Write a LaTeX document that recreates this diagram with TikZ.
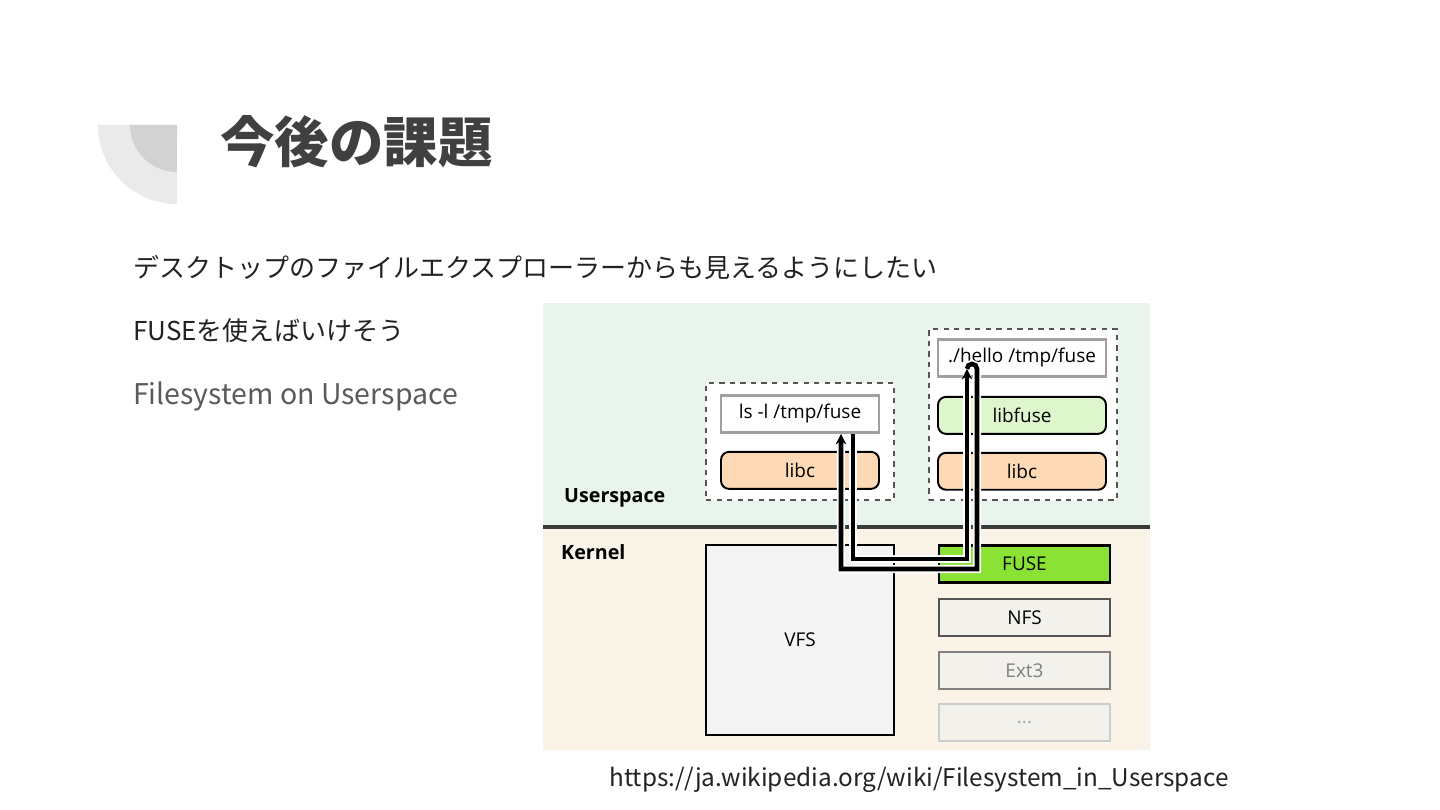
\documentclass[tikz,border=0pt]{standalone}
\usepackage{fontspec}
\setmainfont{Open Sans}
\newfontfamily\cjk{Noto Sans CJK JP}
\usepackage{tikz}
\usetikzlibrary{arrows.meta, positioning}
\definecolor{titlegray}{RGB}{64,64,64}
\definecolor{bodydark}{RGB}{34,34,34}
\definecolor{bodygray}{RGB}{90,90,90}
\definecolor{decoouter}{RGB}{234,234,234}
\definecolor{decoinner}{RGB}{210,210,210}
\definecolor{userbg}{RGB}{233,245,236}
\definecolor{kernelbg}{RGB}{250,243,232}
\definecolor{sepline}{RGB}{55,60,58}
\definecolor{cmdborder}{RGB}{160,160,160}
\definecolor{dashgray}{RGB}{85,85,85}
\definecolor{libcfill}{RGB}{253,217,181}
\definecolor{libfusefill}{RGB}{221,246,204}
\definecolor{fusefill}{RGB}{138,226,52}
\definecolor{vfsfill}{RGB}{244,244,244}
\definecolor{fsfill}{RGB}{243,241,236}
\tikzset{
  diagtext/.style={font=\fontsize{10.8pt}{12pt}\selectfont, inner ysep=1pt},
  groupbox/.style={
    draw=dashgray, fill=white, dashed, line width=0.9pt,
    minimum width=3.76cm
  },
  cmdbox/.style={
    diagtext, draw=cmdborder, fill=white, line width=1.6pt,
    minimum height=0.74cm
  },
  libbox/.style={
    diagtext, draw=black, line width=1.1pt,
    rounded corners=0.16cm, minimum height=0.74cm
  },
  fsbox/.style={
    diagtext, line width=1.3pt, minimum width=3.42cm,
    minimum height=0.74cm
  },
  arealabel/.style={
    font=\fontsize{11.2pt}{12pt}\selectfont\bfseries, anchor=west
  },
  bodytext/.style={
    font=\cjk\fontsize{14.8pt}{18pt}\selectfont, anchor=west
  },
  flowline/.style={
    draw=black, line width=2.6pt,
    preaction={draw=white, line width=4.6pt},
    -{Stealth[length=6pt,width=6pt]}
  },
}

\begin{document}
\begin{tikzpicture}[x=0.02cm, y=-0.02cm]
  \useasboundingbox (0,0) rectangle (1440,810);
  \fill[white] (0,0) rectangle (1440,810);

  %% Corner decoration
  \fill[decoouter] (177,125) -- (98,125) arc[start angle=180, end angle=270, radius=1.58cm] -- cycle;
  \fill[decoinner] (177,125) -- (130,125) arc[start angle=180, end angle=270, radius=0.94cm] -- cycle;

  %% Title and bullet lines
  \node[font=\cjk\bfseries\fontsize{31pt}{36pt}\selectfont, text=titlegray, anchor=west] (title) at (214,142) {今後の課題};
  \node[bodytext, text=bodydark] (line1) at (127,267) {デスクトップのファイルエクスプローラーからも見えるようにしたい};
  \node[bodytext, text=bodydark] (line2) at (127,331) {FUSEを使えばいけそう};
  \node[bodytext, text=bodygray, font=\cjk\fontsize{16.2pt}{18pt}\selectfont] (line3) at (127,397) {Filesystem on Userspace};

  %% Userspace / Kernel areas
  \fill[userbg] (543,303) rectangle (1150,527);
  \fill[kernelbg] (543,527) rectangle (1150,750);
  \draw[sepline, line width=2.2pt] (543,527) -- (1150,527);
  \node[arealabel] (user) at (558,498) {Userspace};
  \node[arealabel] (kern) at (555,552) {Kernel};

  %% ls process
  \node[groupbox, minimum height=2.34cm] (lsgroup) at (800,441.5) {};
  \node[cmdbox, minimum width=3.16cm] (ls) at (800,414) {ls -l /tmp/fuse};
  \node[libbox, fill=libcfill, minimum width=3.16cm, below=0.34cm of ls] (libcL) {libc};

  %% hello process
  \node[groupbox, minimum height=3.42cm] (hellogroup) at (1023,414.5) {};
  \node[cmdbox, minimum width=3.36cm] (hello) at (1022,358) {./hello /tmp/fuse};
  \node[libbox, fill=libfusefill, minimum width=3.36cm, below=0.36cm of hello] (libfuse) {libfuse};
  \node[libbox, fill=libcfill, minimum width=3.36cm, below=0.34cm of libfuse] (libcR) {libc};

  %% Kernel side
  \node[diagtext, draw=black, fill=vfsfill, line width=1.3pt,
    minimum width=3.76cm, minimum height=3.8cm] (vfs) at (800,640) {VFS};
  \node[fsbox, draw=black, fill=fusefill] (fuse) at (1024.5,564) {FUSE};
  \node[fsbox, draw=dashgray, fill=fsfill, below=0.28cm of fuse] (nfs) {NFS};
  \node[fsbox, draw=gray, fill=fsfill, text=gray, below=0.28cm of nfs] (ext) {Ext3};
  \node[fsbox, draw=black!20, fill=fsfill, text=black!35, below=0.26cm of ext] (more) {...};

  %% Request path
  \coordinate (upper) at ([yshift=0.1cm]fuse.center);
  \coordinate (lower) at ([yshift=-0.1cm]fuse.center);
  \coordinate (turnL) at ([xshift=-1.1cm,yshift=0.18cm]hello.south);
  \coordinate (turnR) at ([xshift=-0.9cm,yshift=0.18cm]hello.south);
  \draw[flowline] ([xshift=1.06cm]ls.south) |- (upper -| turnL) -- (turnL);
  \draw[flowline] (turnL) arc[start angle=180, end angle=0, radius=0.1cm]
    -- (lower -| turnR) -| ([xshift=0.82cm]ls.south);

  %% Source
  \node[font=\cjk\fontsize{13.85pt}{16pt}\selectfont, text=bodydark] (src) at (919,780)
    {https://ja.wikipedia.org/wiki/Filesystem\_in\_Userspace};
\end{tikzpicture}
\end{document}
